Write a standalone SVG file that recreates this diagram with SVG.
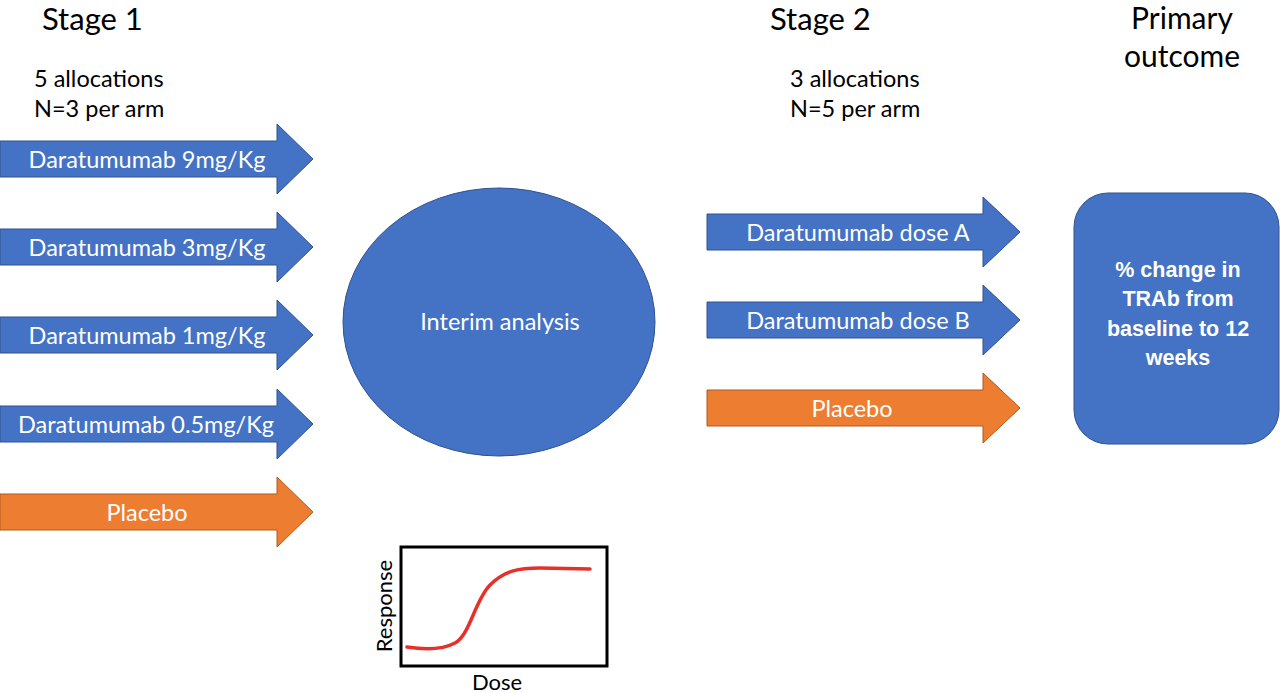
<svg xmlns="http://www.w3.org/2000/svg" width="1280" height="693" viewBox="0 0 1280 693">
<style>
.t{font-family:Lato,"Open Sans","Liberation Sans",sans-serif;fill:#000}
.w{font-family:Lato,"Open Sans","Liberation Sans",sans-serif;fill:#fff;font-size:23.5px;text-anchor:middle;dominant-baseline:central}
.b{fill:#4472C4;stroke:#2F528F;stroke-width:1}
.o{fill:#ED7D31;stroke:#AE5A21;stroke-width:1}
</style>
<defs>
<path id="arr1" d="M0,-18 H277 V-35 L313,0 L277,35 V18 H0 Z"/>
<path id="arr2" d="M707,-18 H983 V-35 L1020,0 L983,35 V18 H707 Z"/>
</defs>
<rect width="1280" height="693" fill="#fff"/>
<g id="headers">
<text class="t" x="42" y="30" font-size="31">Stage 1</text>
<text class="t" x="34" y="87" font-size="23.5">5 allocations</text>
<text class="t" x="34" y="117" font-size="23.5">N=3 per arm</text>
<text class="t" x="770" y="30" font-size="31">Stage 2</text>
<text class="t" x="790" y="87" font-size="23.5">3 allocations</text>
<text class="t" x="790" y="117" font-size="23.5">N=5 per arm</text>
<text class="t" x="1182" y="29" font-size="30" text-anchor="middle">Primary</text>
<text class="t" x="1182" y="67" font-size="30" text-anchor="middle">outcome</text>
</g>
<g id="connectors">
<g id="s1a1" transform="translate(0,159)"><use href="#arr1" class="b"/><text class="w" x="147" y="0">Daratumumab 9mg/Kg</text></g>
<g id="s1a2" transform="translate(0,247)"><use href="#arr1" class="b"/><text class="w" x="147" y="0">Daratumumab 3mg/Kg</text></g>
<g id="s1a3" transform="translate(0,335)"><use href="#arr1" class="b"/><text class="w" x="147" y="0">Daratumumab 1mg/Kg</text></g>
<g id="s1a4" transform="translate(0,424)"><use href="#arr1" class="b"/><text class="w" x="146" y="0">Daratumumab 0.5mg/Kg</text></g>
<g id="s1a5" transform="translate(0,512)"><use href="#arr1" class="o"/><text class="w" x="147" y="0">Placebo</text></g>
<g id="s2a1" transform="translate(0,232)"><use href="#arr2" class="b"/><text class="w" x="858" y="0">Daratumumab dose A</text></g>
<g id="s2a2" transform="translate(0,320)"><use href="#arr2" class="b"/><text class="w" x="858" y="0">Daratumumab dose B</text></g>
<g id="s2a3" transform="translate(0,408)"><use href="#arr2" class="o"/><text class="w" x="852" y="0">Placebo</text></g>
</g>
<g id="interim">
<ellipse cx="499" cy="322" rx="156" ry="134" class="b"/>
<text class="w" x="500" y="321" font-size="23">Interim analysis</text>
</g>
<g id="outcome">
<rect x="1074" y="193" width="205" height="251" rx="34" class="b" stroke="#1F3864" stroke-width="1.2"/>
<g font-family="'Liberation Sans',Arial,sans-serif" font-weight="bold" font-size="21.5" fill="#fff" text-anchor="middle">
<text x="1178" y="277">% change in</text>
<text x="1178" y="306">TRAb from</text>
<text x="1178" y="336">baseline to 12</text>
<text x="1178" y="365">weeks</text>
</g>
</g>
<g id="graph">
<rect x="401" y="547" width="206" height="119" fill="#fff" stroke="#000" stroke-width="3"/>
<path d="M407,647 C420,649 440,651 455,643 C470,635 475,600 490,585 C505,570 520,568 540,568 L590,569" fill="none" stroke="#E8302A" stroke-width="3.5" stroke-linecap="round"/>
<text class="t" font-size="22" text-anchor="middle" transform="translate(392,606) rotate(-90)">Response</text>
<text class="t" font-size="22" x="497" y="690" text-anchor="middle">Dose</text>
</g>
</svg>
